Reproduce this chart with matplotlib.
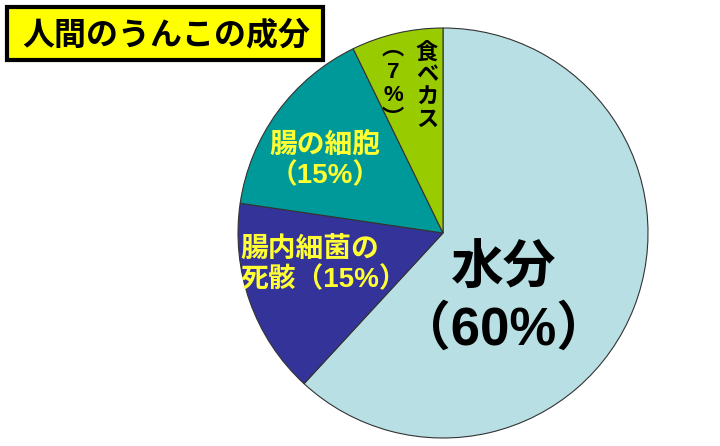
import matplotlib.pyplot as plt
from matplotlib.patches import Rectangle

plt.rcParams['font.family'] = ['Liberation Sans', 'Noto Sans CJK JP', 'DejaVu Sans']

# data
labels = ['水分', '腸内細菌の死骸', '腸の細胞', '食べカス']
values = [60, 15, 15, 7]
colors = ['#b8e0e4', '#333399', '#009999', '#99cc00']

title = '人間のうんこの成分'

W, H = 720, 446
fig = plt.figure(figsize=(W / 100, H / 100), dpi=100)

# pie centre (443, 233) px, radius 205 px
cx, cy, r = 443, 233, 205
ax = fig.add_axes([(cx - r) / W, (H - cy - r) / H, 2 * r / W, 2 * r / H])
ax.pie(values, colors=colors, startangle=90, counterclock=False,
       wedgeprops=dict(edgecolor='#333333', linewidth=0.8))
ax.set_xlim(-1, 1)
ax.set_ylim(-1, 1)
ax.set_aspect('equal')
ax.axis('off')


def px(x, y):
    # pixel -> pie data coords
    return (x - cx) / r, (cy - y) / r


# labels
ax.text(*px(504, 300), '水分\n（60%）', ha='center', va='center',
        fontsize=38, fontweight='bold', color='black', linespacing=1.25)
ax.text(*px(325, 161), '腸の細胞\n（15%）', ha='center', va='center',
        fontsize=20, fontweight='bold', color='#ffff33', linespacing=1.2)
ax.text(*px(240, 265), '腸内細菌の\n死骸（15%）', ha='left', va='center',
        fontsize=20, fontweight='bold', color='#ffff33', linespacing=1.2)
# vertical writing for the small slice
ax.text(*px(427, 86), '食\nベ\nカ\nス', ha='center', va='center',
        fontsize=16, fontweight='bold', color='black', linespacing=0.95,
        family=['Noto Sans CJK JP'])
ax.text(*px(393, 84), '︵\n7\n%\n︶', ha='center', va='center',
        fontsize=16, fontweight='bold', color='black', linespacing=1.15)

# title box
fig.patches.append(Rectangle((7 / W, 1 - 60 / H), 316 / W, 53 / H,
                             transform=fig.transFigure, facecolor='#ffff00',
                             edgecolor='black', linewidth=3))
fig.text(166 / W, 1 - 35 / H, title, ha='center', va='center',
         fontsize=23, fontweight='bold', color='black',
         family=['Noto Sans CJK JP'])

fig.savefig('out.png', dpi=100)
